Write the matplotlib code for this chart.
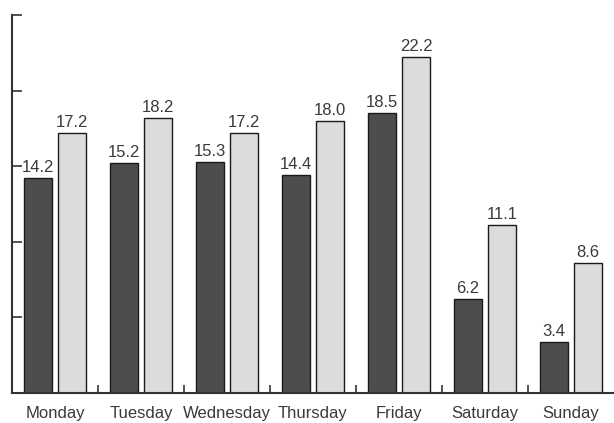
import numpy as np
import matplotlib.pyplot as plt

days = ["Monday", "Tuesday", "Wednesday", "Thursday", "Friday", "Saturday", "Sunday"]
series_a = [14.2, 15.2, 15.3, 14.4, 18.5, 6.2, 3.4]
series_b = [17.2, 18.2, 17.2, 18.0, 22.2, 11.1, 8.6]

plt.rcParams['font.family'] = ['Liberation Sans', 'DejaVu Sans']

fig = plt.figure(figsize=(6.14, 4.23), dpi=100)
ax = fig.add_axes([12 / 614, 30 / 423, 602 / 614, 378 / 423])

x = np.arange(len(days))
w = 0.33
gap = 0.07
bars_a = ax.bar(x - (w + gap) / 2, series_a, w, color="#4d4d4d", edgecolor="#1a1a1a", linewidth=1)
bars_b = ax.bar(x + (w + gap) / 2, series_b, w, color="#dcdcdc", edgecolor="#1a1a1a", linewidth=1)

txt = "#3a3a3a"
for bars, vals in [(bars_a, series_a), (bars_b, series_b)]:
    for b, v in zip(bars, vals):
        ax.text(b.get_x() + b.get_width() / 2, v + 0.2, f"{v:.1f}",
                ha="center", va="bottom", fontsize=12, color=txt)

ax.set_xlim(-0.5, len(days) - 0.5)
ax.set_ylim(0, 25)
ax.set_yticks([0, 5, 10, 15, 20, 25])
ax.set_yticklabels([])
ax.set_xticks(x[:-1] + 0.5)
ax.set_xticklabels([])
ax.set_xticks(x, minor=True)
ax.set_xticklabels(days, minor=True, fontsize=12, color=txt)
ax.tick_params(axis="x", which="minor", length=0, pad=9)
ax.tick_params(axis="x", which="major", direction="in", length=6, width=1.2, color="#333333")
ax.tick_params(axis="y", direction="in", length=7.5, width=1.2, color="#333333")

for side in ["top", "right"]:
    ax.spines[side].set_visible(False)
for side in ["left", "bottom"]:
    ax.spines[side].set_color("#333333")
    ax.spines[side].set_linewidth(1.5)

fig.savefig("out.png", dpi=100)
